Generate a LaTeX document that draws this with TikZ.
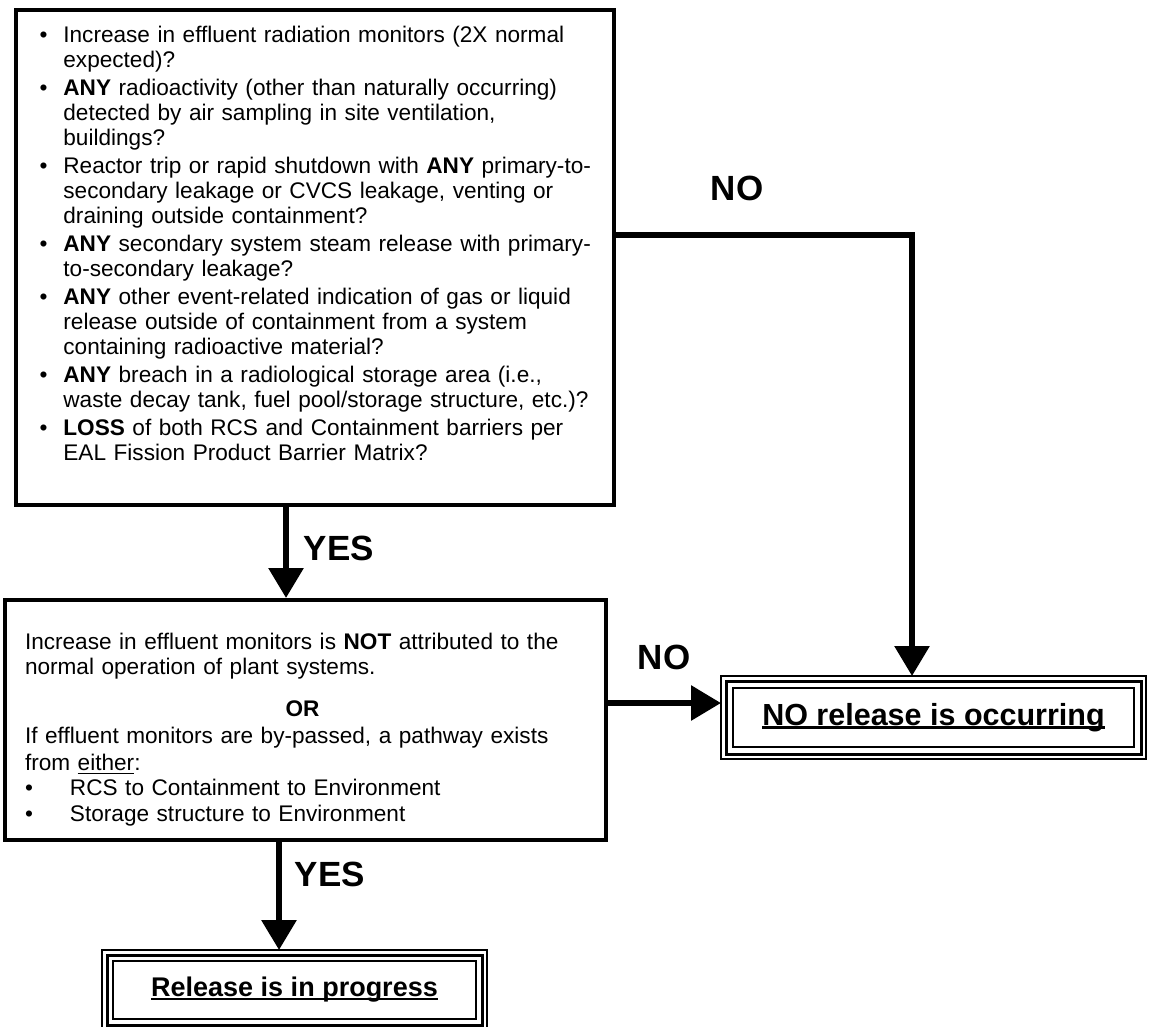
\documentclass[tikz,border=0pt]{standalone}
\usepackage{fontspec}
\setmainfont{Liberation Sans}
\usetikzlibrary{arrows.meta}
\newcommand{\ulin}[2][2.5pt]{\setbox0=\hbox{#2}\rlap{\rule[-3.5pt]{\wd0}{#1}}\box0}

\begin{document}
\begin{tikzpicture}[x=1pt, y=-1pt,
qbox/.style={draw, line width=4pt, rectangle, align=left, font=\fontsize{22.6}{25}\selectfont},
endbox/.style={draw, line width=1.5pt, rectangle, outer sep=0pt, font=\fontsize{30.5}{33}\selectfont\bfseries},
frm/.style={line width=3pt},
lab/.style={font=\fontsize{35}{40}\selectfont\bfseries},
arr/.style={-{Triangle[length=30pt,width=34pt]}, line width=6pt}]

\useasboundingbox (0,0) rectangle (1149,1027);

\node[qbox, minimum width=598pt, minimum height=495pt, text width=551pt, inner xsep=23.5pt] (Q1) at (315,257.5) {\begin{tabular}{@{}l@{\hspace{16pt}}l@{}}
\textbullet & Increase in effluent radiation monitors (2X normal\\
 & expected)?\\[3pt]
\textbullet & \textbf{ANY} radioactivity (other than naturally occurring)\\
 & detected by air sampling in site ventilation,\\
 & buildings?\\[3pt]
\textbullet & Reactor trip or rapid shutdown with \textbf{ANY} primary-to-\\
 & secondary leakage or CVCS leakage, venting or\\
 & draining outside containment?\\[3pt]
\textbullet & \textbf{ANY} secondary system steam release with primary-\\
 & to-secondary leakage?\\[3pt]
\textbullet & \textbf{ANY} other event-related indication of gas or liquid\\
 & release outside of containment from a system\\
 & containing radioactive material?\\[3pt]
\textbullet & \textbf{ANY} breach in a radiological storage area (i.e.,\\
 & waste decay tank, fuel pool/storage structure, etc.)?\\[3pt]
\textbullet & \textbf{LOSS} of both RCS and Containment barriers per\\
 & EAL Fission Product Barrier Matrix?\\[21.6pt]
\end{tabular}};

\node[qbox, minimum width=601pt, minimum height=240pt, text width=561pt, inner xsep=20pt] (Q2) at (305.5,720) {\begin{tabular}{@{}p{12pt}@{\hspace{33pt}}p{510pt}@{}}
\multicolumn{2}{@{}l@{}}{\rule{0pt}{38pt}Increase in effluent monitors is \textbf{NOT} attributed to the}\\
\multicolumn{2}{@{}l@{}}{normal operation of plant systems.}\\[17pt]
\multicolumn{2}{@{}c@{}}{\textbf{OR}}\\[2pt]
\multicolumn{2}{@{}l@{}}{If effluent monitors are by-passed, a pathway exists}\\[2pt]
\multicolumn{2}{@{}l@{}}{from \ulin[1.2pt]{either}:}\\
\textbullet & RCS to Containment to Environment\\[1pt]
\textbullet & Storage structure to Environment
\end{tabular}};

\node[endbox, minimum width=425pt, minimum height=83pt] (NR) at (933.5,717.5) {\ulin{NO release is occurring}};
\node[endbox, minimum width=385pt, minimum height=80pt, font=\fontsize{27}{31}\selectfont\bfseries] (RP) at (294.5,990) {\ulin{Release is in progress}};

\draw[frm] ([shift={(5pt,-5pt)}]NR.north west) rectangle ([shift={(-5pt,5pt)}]NR.south east);
\draw[line width=1.5pt] ([shift={(12pt,-12pt)}]NR.north west) rectangle ([shift={(-12pt,12pt)}]NR.south east);
\draw[frm] ([shift={(5pt,-5pt)}]RP.north west) rectangle ([shift={(-5pt,5pt)}]RP.south east);
\draw[line width=1.5pt] ([shift={(11pt,-11pt)}]RP.north west) rectangle ([shift={(-11pt,11pt)}]RP.south east);

\node[lab] (no1) at (737,188) {NO};
\node[lab] (yes1) at (339,548) {YES};
\node[lab] (no2) at (664,657) {NO};
\node[lab] (yes2) at (330,874) {YES};

\coordinate (a1) at ([xshift=-29pt]Q1.south);
\coordinate (a2) at ([xshift=-26.5pt]Q2.south);
\coordinate (n1) at ([yshift=22.5pt]Q1.east);
\coordinate (n1e) at ([xshift=-21.5pt]NR.north);
\coordinate (n2) at ([yshift=17pt]Q2.east);

\draw[arr] (a1) -- (a1 |- Q2.north);
\draw[arr] (a2) -- (a2 |- RP.north);
\draw[arr] (n1) -| (n1e);
\draw[arr] (n2) -- (n2 -| NR.west);

\end{tikzpicture}
\end{document}
